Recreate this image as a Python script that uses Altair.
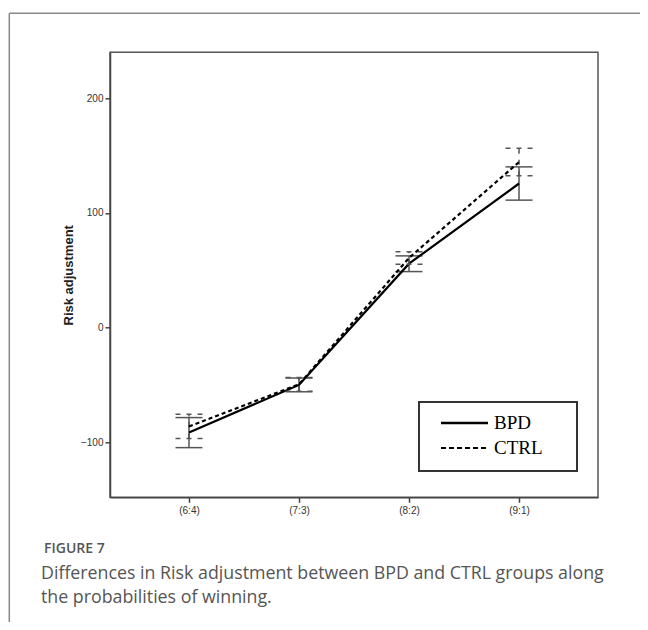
import altair as alt
import pandas as pd

# ---- data ----
categories = ["(6:4)", "(7:3)", "(8:2)", "(9:1)"]
groups = ["BPD", "CTRL"]
bpd_mean = [-91.6, -50.0, 55.7, 125.6]
bpd_lo = [-104.7, -56.0, 48.8, 111.1]
bpd_hi = [-78.5, -44.0, 62.5, 140.1]
ctrl_mean = [-86.2, -49.5, 60.7, 144.3]
ctrl_lo = [-96.8, -55.5, 55.3, 132.3]
ctrl_hi = [-75.5, -43.5, 66.0, 156.4]
y_ticks = [-100, 0, 100, 200]
y_title = "Risk adjustment"
fig_label = "FIGURE 7"
caption_lines = [
    "Differences in Risk adjustment between BPD and CTRL groups along",
    "the probabilities of winning.",
]

rows = []
for g, means, los, his in [
    ("BPD", bpd_mean, bpd_lo, bpd_hi),
    ("CTRL", ctrl_mean, ctrl_lo, ctrl_hi),
]:
    for c, m, lo, hi in zip(categories, means, los, his):
        rows.append({"cat": c, "group": g, "mean": m, "lo": lo, "hi": hi})
df = pd.DataFrame(rows)
one = pd.DataFrame({"k": [0]})

x_enc = alt.X(
    "cat:N",
    sort=categories,
    scale=alt.Scale(type="point", padding=0.718),
    axis=alt.Axis(
        title=None, labelAngle=0, labelFont="Liberation Sans", labelFontSize=10,
        labelColor="#333", tickSize=5, tickColor="#444", tickWidth=1.5,
        domainColor="#444", domainWidth=1.5, labelPadding=3, grid=False,
    ),
)
y_scale = alt.Scale(domain=[-148, 240], nice=False, zero=False)
y_axis = alt.Axis(
    values=y_ticks, title=y_title, grid=False, labelFont="Liberation Sans",
    labelFontSize=10, labelColor="#333", tickSize=5, tickColor="#444",
    tickWidth=1.5, domainColor="#444", domainWidth=1.5, labelPadding=2,
    titleFont="Liberation Sans", titleFontSize=13, titleFontWeight="bold",
    titleColor="#222", titleAngle=270, titleX=-42, titleY=222.5,
    titleAlign="center", titleBaseline="middle",
)

styles = {"BPD": None, "CTRL": [4, 3]}
cap_dash = {"BPD": None, "CTRL": [5, 6]}
layers = []
for g in groups:
    d = df[df["group"] == g]
    lkw = dict(color="black", strokeWidth=2.2)
    if styles[g]:
        lkw["strokeDash"] = styles[g]
    ekw = dict(color="#555", strokeWidth=1.5)
    if cap_dash[g]:
        ekw["strokeDash"] = cap_dash[g]
    vert = alt.Chart(d).mark_rule(**ekw).encode(
        x=x_enc, y=alt.Y("lo:Q", scale=y_scale, axis=y_axis), y2="hi:Q"
    )
    cap_lo = alt.Chart(d).mark_rule(xOffset=-13.5, x2Offset=13.5, **ekw).encode(
        x=x_enc, x2="cat", y=alt.Y("lo:Q", scale=y_scale, axis=y_axis)
    )
    cap_hi = alt.Chart(d).mark_rule(xOffset=-13.5, x2Offset=13.5, **ekw).encode(
        x=x_enc, x2="cat", y=alt.Y("hi:Q", scale=y_scale, axis=y_axis)
    )
    line = alt.Chart(d).mark_line(**lkw).encode(
        x=x_enc, y=alt.Y("mean:Q", scale=y_scale, axis=y_axis)
    )
    layers += [vert, cap_lo, cap_hi, line]

# ---- legend box (drawn) ----
legend_box = alt.Chart(one).mark_rect(
    fill="white", stroke="#333", strokeWidth=2
).encode(x=alt.value(309), x2=alt.value(467), y=alt.value(349.7), y2=alt.value(418.7))
layers.append(legend_box)
leg_rows = [(groups[0], 370.7, None, 2.5), (groups[1], 395.7, [5, 3], 2.0)]
for name, yy, dash, sw in leg_rows:
    kw = dict(color="black", strokeWidth=sw)
    if dash:
        kw["strokeDash"] = dash
    layers.append(alt.Chart(one).mark_rule(**kw).encode(
        x=alt.value(331), x2=alt.value(378), y=alt.value(yy)))
    layers.append(alt.Chart(one).mark_text(
        text=name, font="Liberation Serif", fontSize=19, color="black",
        align="left", baseline="middle").encode(x=alt.value(384), y=alt.value(yy)))

# ---- outer frame and caption ----
layers.append(alt.Chart(one).mark_rule(color="#888", strokeWidth=1.5).encode(
    x=alt.value(-100.7), y=alt.value(-39), y2=alt.value(600)))
layers.append(alt.Chart(one).mark_rule(color="#888", strokeWidth=1.5).encode(
    x=alt.value(-100.7), x2=alt.value(560), y=alt.value(-39)))
layers.append(alt.Chart(one).mark_text(
    text=fig_label, font="Open Sans", fontSize=14, fontWeight=600, color="#555",
    align="left", baseline="middle").encode(x=alt.value(-66), y=alt.value(497)))
for i, ln in enumerate(caption_lines):
    layers.append(alt.Chart(one).mark_text(
        text=ln, font="Open Sans", fontSize=17.8, color="#555",
        align="left", baseline="middle").encode(
            x=alt.value(-69), y=alt.value(521.5 + 24.5 * i)))

chart = alt.layer(*layers).properties(
    width=488, height=445,
    autosize=alt.AutoSizeParams(type="none"),
    padding={"left": 102, "top": 44.3, "right": 42, "bottom": 124.7},
).configure_view(stroke="#555", strokeWidth=1.5)

chart.save("out.html", embed_options={"renderer": "svg", "actions": False})
